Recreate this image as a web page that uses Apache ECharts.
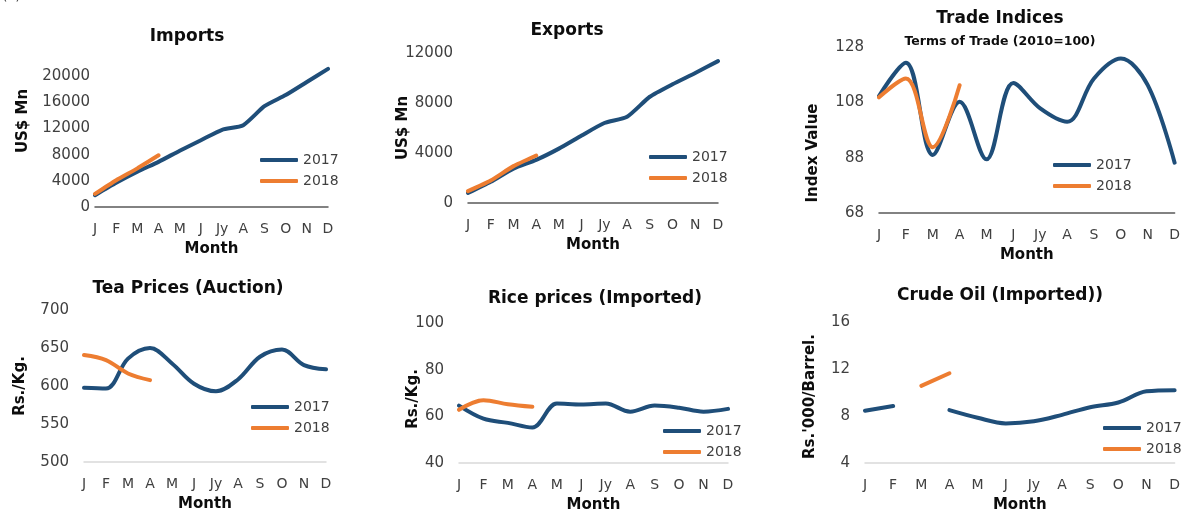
<!DOCTYPE html>
<html>
<head>
<meta charset="utf-8">
<script src="https://cdn.jsdelivr.net/npm/echarts@6/dist/echarts.min.js"></script>
<style>
  html, body { margin: 0; padding: 0; background: #fff; }
  #chart { width: 1183px; height: 514px; }
</style>
</head>
<body>
<div id="chart"></div>
<script>
  // data
  const months = ['J', 'F', 'M', 'A', 'M', 'J', 'Jy', 'A', 'S', 'O', 'N', 'D']
  const seriesNames = ['2017', '2018']

  const imports2017 = [1800, 3700, 5400, 6900, 8600, 10200, 11800, 12500, 15400, 17100, 19100, 21100]
  const imports2018 = [2000, 4100, 5900, 7900]
  const exports2017 = [800, 1700, 2750, 3450, 4350, 5400, 6400, 6900, 8500, 9500, 10400, 11350]
  const exports2018 = [950, 1800, 2950, 3800]
  const tot2017 = [110.3, 122.3, 89, 108.2, 87.4, 115, 105.8, 101, 116.6, 123.8, 114.2, 86.2]
  const tot2018 = [109.8, 116.6, 91.8, 114.2]
  const tea2017 = [597.6, 596.7, 636, 650, 629.7, 603, 593, 608.6, 638.5, 648, 627.5, 622]
  const tea2018 = [640.7, 634, 616.5, 607.7]
  const rice2017 = [64.6, 59, 57.2, 55.2, 65.5, 65.1, 65.5, 62, 64.6, 63.7, 62, 63.2]
  const rice2018 = [62.8, 66.9, 65.2, 64.1]
  const oil2017 = [8.45, 8.85, null, 8.5, 7.85, 7.37, 7.55, 8.1, 8.75, 9.15, 10.1, 10.2]
  const oil2018 = [null, null, 10.57, 11.64]

  const totTicks = [68, 88, 108, 128]

  const BLUE = '#1F4E79'
  const ORANGE = '#ED7D31'
  const FONT = 'DejaVu Sans'

  // one entry per small chart (layout only)
  const panels = [
    { title: 'Imports', tx: 187, ty: 28, yName: 'US$ Mn', nameGap: 64, namePad: [0, 0, 0, 28],
      grid: { left: 95, top: 63, width: 233, height: 144 }, min: 0, max: 22000, interval: 4000, hideMax: true,
      axisColor: '#595959', legend: { left: 260, top: 153 }, data: [imports2017, imports2018], smooth: 0.2 },
    { title: 'Exports', tx: 567, ty: 22, yName: 'US$ Mn', nameGap: 57, namePad: 0,
      grid: { left: 468, top: 53, width: 250, height: 150 }, min: 0, max: 12000, interval: 4000,
      axisColor: '#595959', legend: { left: 649, top: 150 }, data: [exports2017, exports2018], smooth: 0.2 },
    { title: 'Trade Indices', sub: 'Terms of Trade (2010=100)', tx: 1000, ty: 10, yName: 'Index Value', nameGap: 58, namePad: [0, 46, 0, 0],
      grid: { left: 879, top: 47, width: 297, height: 166 }, min: 68, max: 128, custom: totTicks,
      axisColor: '#595959', legend: { left: 1053, top: 158 }, data: [tot2017, tot2018], smooth: 0.35 },
    { title: 'Tea Prices (Auction)', tx: 188, ty: 280, yName: 'Rs./Kg.', nameGap: 56, namePad: 0,
      grid: { left: 84, top: 310, width: 242, height: 152 }, min: 500, max: 700, interval: 50,
      axisColor: '#d9d9d9', legend: { left: 251, top: 400 }, data: [tea2017, tea2018], smooth: 0.35 },
    { title: 'Rice prices (Imported)', tx: 595, ty: 290, yName: 'Rs./Kg.', nameGap: 38, namePad: [0, 12, 0, 0],
      grid: { left: 459, top: 323, width: 269, height: 145 }, min: 40, max: 100, interval: 20,
      axisColor: '#d9d9d9', legend: { left: 663, top: 424 }, data: [rice2017, rice2018], smooth: 0.35 },
    { title: 'Crude Oil (Imported))', tx: 1000, ty: 287, yName: "Rs.'000/Barrel.", nameGap: 47, namePad: [0, 8, 0, 0],
      grid: { left: 865, top: 322, width: 310, height: 142 }, min: 4, max: 16, interval: 4,
      axisColor: '#d9d9d9', legend: { left: 1103, top: 421 }, data: [oil2017, oil2018], smooth: 0.35 }
  ]

  const option = {
    animation: false,
    textStyle: { fontFamily: FONT },
    title: [],
    legend: [],
    grid: [],
    xAxis: [],
    yAxis: [],
    series: [],
    graphic: [
      { type: 'text', left: 2, top: -11, style: { text: '(c)', fontSize: 14, fontFamily: FONT, fill: '#404040' } }
    ]
  }

  panels.forEach((p, i) => {
    option.title.push({
      text: p.title,
      subtext: p.sub || '',
      left: p.tx,
      top: p.ty,
      textAlign: 'center',
      padding: 0,
      itemGap: 8,
      textStyle: { fontFamily: FONT, fontSize: 17, fontWeight: 'bold', color: '#0d0d0d' },
      subtextStyle: { fontFamily: FONT, fontSize: 12.5, fontWeight: 'bold', color: '#0d0d0d' }
    })
    option.legend.push({
      data: seriesNames,
      orient: 'vertical',
      left: p.legend.left,
      top: p.legend.top,
      padding: 0,
      itemGap: 7,
      itemWidth: 38,
      itemHeight: 4,
      icon: 'roundRect',
      selectedMode: false,
      textStyle: { fontFamily: FONT, fontSize: 14, color: '#404040' }
    })
    option.grid.push(Object.assign({ containLabel: false }, p.grid))
    option.xAxis.push({
      type: 'category',
      gridIndex: i,
      data: months,
      boundaryGap: false,
      name: 'Month',
      nameLocation: 'middle',
      nameGap: 35,
      nameTextStyle: { fontFamily: FONT, fontSize: 15, fontWeight: 'bold', color: '#0d0d0d' },
      axisLine: { lineStyle: { color: p.axisColor, width: 1.5 } },
      axisTick: { show: false },
      axisLabel: { interval: 0, margin: 15, fontSize: 14, color: '#404040' },
      splitLine: { show: false }
    })
    const yAxis = {
      type: 'value',
      gridIndex: i,
      min: p.min,
      max: p.max,
      name: p.yName,
      nameLocation: 'middle',
      nameGap: p.nameGap,
      nameMoveOverlap: false,
      nameTextStyle: { fontFamily: FONT, fontSize: 15, fontWeight: 'bold', color: '#0d0d0d', padding: p.namePad },
      axisLine: { show: false },
      axisTick: { show: false },
      splitLine: { show: false },
      axisLabel: {
        fontSize: 15,
        color: '#404040',
        margin: i === 0 ? 5 : 15,
        showMaxLabel: !p.hideMax,
        formatter: v => String(v)
      }
    }
    if (p.custom) {
      yAxis.axisLabel.customValues = p.custom
    } else {
      yAxis.interval = p.interval
    }
    option.yAxis.push(yAxis)
    p.data.forEach((values, k) => {
      option.series.push({
        name: seriesNames[k],
        type: 'line',
        xAxisIndex: i,
        yAxisIndex: i,
        data: values,
        smooth: p.smooth,
        symbol: 'none',
        connectNulls: false,
        color: k === 0 ? BLUE : ORANGE,
        lineStyle: { width: 4, cap: 'round', join: 'round' }
      })
    })
  })

  const myChart = echarts.init(document.getElementById('chart'))
  myChart.setOption(option)
</script>
</body>
</html>
